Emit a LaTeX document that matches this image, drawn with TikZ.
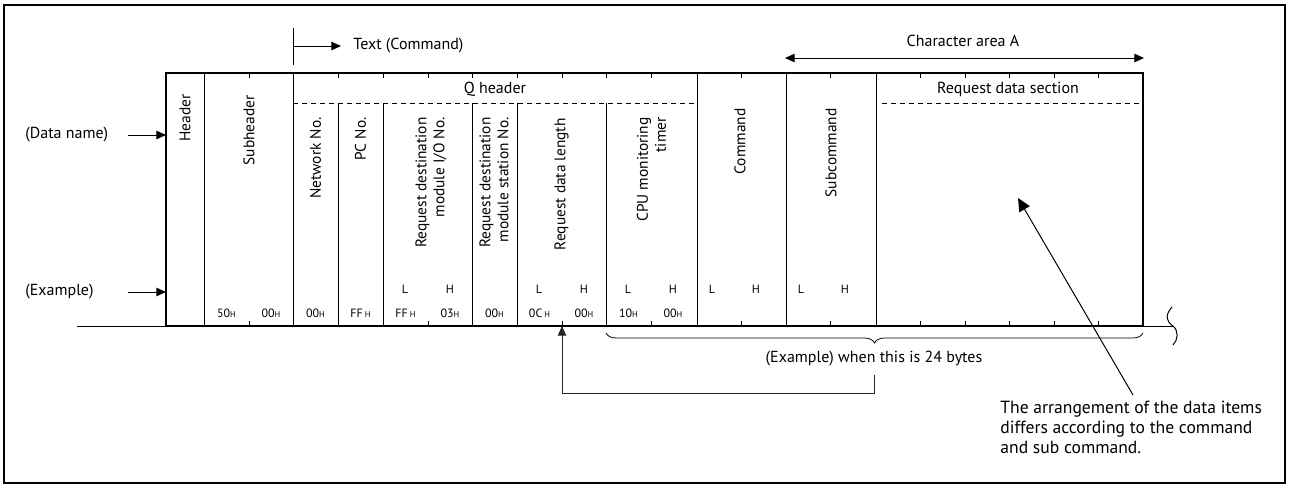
\documentclass[tikz,border=0pt]{standalone}
\usepackage{fontspec}
\setmainfont{PT Sans}
\usetikzlibrary{arrows.meta, positioning, calc, decorations.pathreplacing}

\newcommand{\hexv}[1]{#1{\fontsize{4.2}{5}\selectfont H}}

\begin{document}
\begin{tikzpicture}[
    x=0.5pt, y=-0.5pt,
    >={Triangle[length=4.8pt,width=4.2pt]},
    lbl/.style={font=\fontsize{8}{9.5}\selectfont, inner sep=1pt},
    vlbl/.style={lbl, font=\fontsize{7.7}{9}\selectfont, rotate=90, anchor=east, align=right},
    val/.style={font=\fontsize{6}{7}\selectfont, inner sep=0pt},
    note/.style={font=\fontsize{8.8}{9.8}\selectfont, inner sep=0pt, align=left},
    frame/.style={line width=1pt},
    cell/.style={line width=0.5pt},
    dashline/.style={line width=0.5pt, dash pattern=on 2.5pt off 2pt},
    conn/.style={->, line width=0.5pt},
    bigconn/.style={-{Triangle[length=6.5pt,width=6pt]}, line width=0.5pt},
    thinconn/.style={->, line width=0.4pt, black!85}
]

% -------- Page frame --------
\useasboundingbox (0,0) rectangle (1289,487);
\draw[frame] (4,5) rectangle (1285,483);

% -------- Y levels --------
\def\ytop{73}
\def\ydash{103}
\def\ybot{326}
\def\ylh{289}
\def\yval{313}

% -------- Column edges --------
\def\xL{166}
\def\xR{1143}

% -------- Left labels --------
\node[lbl, anchor=west] (dname) at (23,135) {(Data name)};
\node[lbl, anchor=west] (exname) at (23,292) {(Example)};
\coordinate (dnTail) at (128,135);
\coordinate (dnTip) at (\xL,135);
\coordinate (exTail) at (128,292);
\coordinate (exTip) at (\xL,292);
\draw[conn] (dnTail) -- (dnTip);
\draw[conn] (exTail) -- (exTip);

% -------- Text (Command) marker --------
\draw[cell] (293,28) -- (293,65);
\coordinate (tcmd) at (293,46);
\node[lbl, anchor=west] (txtcmd) at (351,46) {Text (Command)};
\draw[conn, shorten >=5pt] (tcmd) -- (txtcmd.west);

% -------- Character area A --------
\coordinate (caL) at (785,58);
\coordinate (caR) at (1144,58);
\draw[<->, line width=0.5pt] (caL) -- (caR);
\node[lbl] (catxt) at (963,41) {Character area A};

% -------- Table lines --------
\draw[cell] (77,\ybot) -- (\xL,\ybot);
\draw[cell] (\xR,\ybot) -- (1173,\ybot);
\foreach \x in {204,293,697,786,876} {
    \draw[cell] (\x,\ytop) -- (\x,\ybot);
}
\foreach \x in {338,383,472,517,606} {
    \draw[cell] (\x,\ydash) -- (\x,\ybot);
}
\draw[dashline] (293,\ydash) -- (697,\ydash);
\draw[dashline] (882,\ydash) -- (\xR,\ydash);

% byte ticks
\foreach \x in {249,338,383,428,472,517,562,606,651,741,830,920,965,1009,1054,1098} {
    \draw[cell] (\x,\ytop) -- (\x,\ytop+5);
    \draw[cell] (\x,\ybot) -- (\x,\ybot-5);
}
\draw[frame] (\xL,\ytop) rectangle (\xR,\ybot);

% break mark
\draw[cell] (1172,307) .. controls (1164,316) and (1167,322) .. (1173,326)
    .. controls (1179,331) and (1178,340) .. (1173,345);

% -------- Group headings --------
\node[lbl] (qhdr) at (495,89) {Q header};
\node[lbl] (rqsec) at (1008,89) {Request data section};

% -------- Field names (rotated) --------
\node[vlbl] (hdr) at (185,92) {Header};
\node[vlbl] (subh) at (249,93) {Subheader};
\node[vlbl] (netno) at (315.5,115) {Network No.};
\node[vlbl] (pcno) at (360.5,115) {PC No.};
\node[vlbl] (iono) at (431,115) {Request destination\\module I/O No.};
\node[vlbl] (stno) at (494,115) {Request destination\\module station No.};
\node[vlbl] (rdlen) at (561.5,116) {Request data length};
\node[vlbl] (cpu) at (651.5,115) {CPU monitoring\\timer};
\node[vlbl] (cmd) at (740,106) {Command};
\node[vlbl] (subc) at (831,106) {Subcommand};

% -------- L / H marks --------
\foreach \x/\t [count=\i] in {405/L,450/H,539/L,584/H,628/L,673/H,712/L,756/H,801/L,845/H} {
    \node[val] (lh\i) at (\x,\ylh) {\t};
}

% -------- Example values --------
\foreach \x/\v [count=\i] in {226.5/50,271/00,315.5/00,360.5/{FF\,},405.5/{FF\,},450/03,
    494.5/00,539.5/{0C\,},584/00,628.5/10,673/00} {
    \node[val] (ev\i) at (\x,\yval) {\hexv{\v}};
}

% -------- 24 bytes brace --------
\coordinate (brR) at (\xR,333);
\coordinate (brL) at (606,333);
\draw[line width=0.4pt, decorate, decoration={brace, amplitude=5pt}] (brR) -- (brL);
\node[lbl] (n24) at (874,359) {(Example) when this is 24 bytes};
\coordinate (lenCorner) at (562,393);
\coordinate (lenTip) at (562,\ybot);
\draw[thinconn, shorten <=3pt] (n24.south) |- (lenCorner) -- (lenTip);

% -------- Arrangement note --------
\node[note, anchor=north west] (arrnote) at (1000,401)
    {The arrangement of the data items\\differs according to the command\\and sub command.};
\coordinate (rdTail) at (1133,395);
\coordinate (rdTip) at (1018,198);
\draw[bigconn] (rdTail) -- (rdTip);

\end{tikzpicture}
\end{document}
